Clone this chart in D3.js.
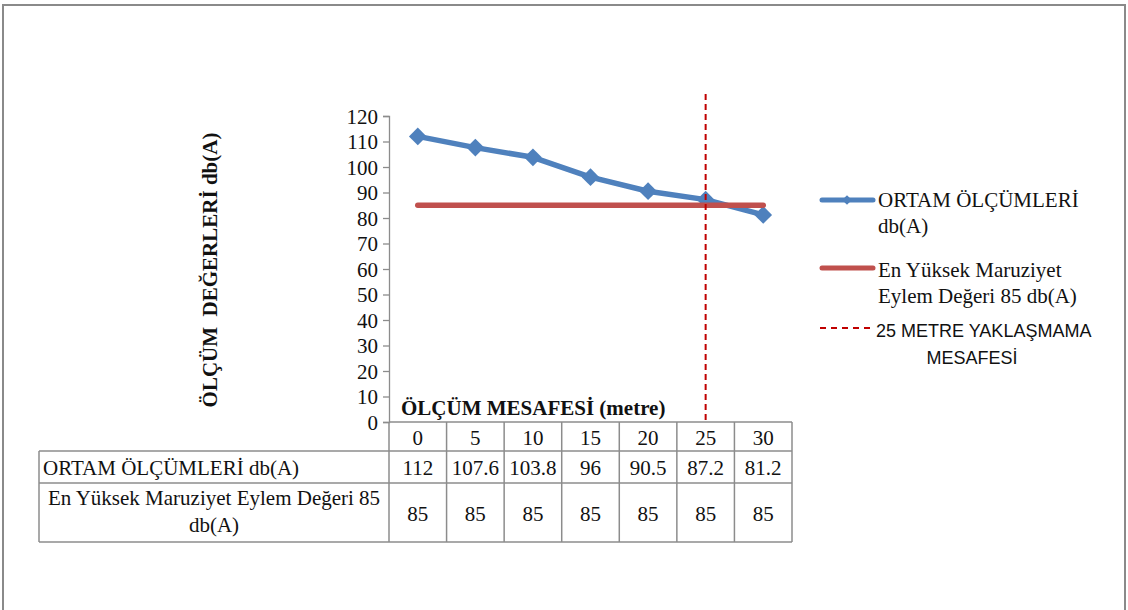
<!DOCTYPE html>
<html>
<head>
<meta charset="utf-8">
<script src="https://cdn.jsdelivr.net/npm/d3@7"></script>
<style>
  html, body { margin: 0; padding: 0; background: #fff; }
  svg { display: block; }
  .serif { font-family: "Liberation Serif", "Times New Roman", serif; }
  .sans { font-family: "Liberation Sans", Arial, sans-serif; }
</style>
</head>
<body>
<svg id="chart" width="1128" height="610"></svg>
<script>
// Measurement distances (metre)
const distances = ["0", "5", "10", "15", "20", "25", "30"];
// Measured ambient noise levels, db(A)
const ambient = [112, 107.6, 103.8, 96, 90.5, 87.2, 81.2];
// Upper exposure action value, db(A)
const limit = [85, 85, 85, 85, 85, 85, 85];
// Distance marked by the vertical guide line
const approachDistance = "25";
const yTicks = [0, 10, 20, 30, 40, 50, 60, 70, 80, 90, 100, 110, 120];

const seriesNames = ["ORTAM ÖLÇÜMLERİ db(A)", "En Yüksek Maruziyet Eylem Değeri 85 db(A)"];

const svg = d3.select("#chart");
const blue = "#4F81BD", red = "#C0504D", guideRed = "#C00000", grid = "#8C8C8C";
const fs = 21;

// outer frame
svg.append("rect").attr("x", 3).attr("y", 5).attr("width", 1122).attr("height", 620)
  .attr("fill", "none").attr("stroke", "#8a8a8a").attr("stroke-width", 2);

const x = d3.scaleBand().domain(distances).range([389, 792]).padding(0);
const y = d3.scaleLinear().domain([0, 120]).range([422, 116]);

// y axis
const yAxis = svg.append("g").attr("transform", "translate(389,0)")
  .call(d3.axisLeft(y).tickValues(yTicks).tickSize(6).tickPadding(5));
yAxis.select(".domain").attr("stroke", grid).attr("stroke-width", 1.3);
yAxis.selectAll(".tick line").attr("stroke", grid).attr("stroke-width", 1.3);
yAxis.selectAll(".tick text").attr("class", "serif").attr("font-size", fs)
  .attr("fill", "#111").attr("dy", "0.34em");
yAxis.attr("font-family", null);

// y axis title
svg.append("text").attr("class", "serif")
  .attr("transform", "translate(217,270) rotate(-90)")
  .attr("text-anchor", "middle").attr("font-size", fs).attr("font-weight", "bold")
  .attr("fill", "#111").attr("xml:space", "preserve")
  .text("ÖLÇÜM  DEĞERLERİ db(A)");

// x axis title (inside plot, above table)
svg.append("text").attr("class", "serif")
  .attr("x", 401).attr("y", 415).attr("font-size", fs).attr("font-weight", "bold")
  .attr("fill", "#111").text("ÖLÇÜM MESAFESİ (metre)");

// data table
const rowTop = [422, 451, 483, 542];
const tableLeft = 39, plotLeft = 389, plotRight = 792;
const tbl = svg.append("g").attr("stroke", grid).attr("stroke-width", 1.5).attr("fill", "none");
// horizontal rules
tbl.append("line").attr("x1", plotLeft).attr("x2", plotRight).attr("y1", rowTop[0]).attr("y2", rowTop[0]);
[1, 2, 3].forEach(i => {
  tbl.append("line").attr("x1", tableLeft).attr("x2", plotRight).attr("y1", rowTop[i]).attr("y2", rowTop[i]);
});
// vertical rules
tbl.append("line").attr("x1", tableLeft).attr("x2", tableLeft).attr("y1", rowTop[1]).attr("y2", rowTop[3]);
distances.forEach(d => {
  tbl.append("line").attr("x1", x(d)).attr("x2", x(d)).attr("y1", rowTop[0]).attr("y2", rowTop[3]);
});
tbl.append("line").attr("x1", plotRight).attr("x2", plotRight).attr("y1", rowTop[0]).attr("y2", rowTop[3]);

const cellText = (xx, yy, t, anchor) => svg.append("text").attr("class", "serif")
  .attr("x", xx).attr("y", yy).attr("font-size", fs).attr("fill", "#111")
  .attr("text-anchor", anchor || "middle").attr("dominant-baseline", "central").text(t);

distances.forEach((d, i) => {
  const cx = x(d) + x.bandwidth() / 2;
  cellText(cx, (rowTop[0] + rowTop[1]) / 2 + 1, d);
  cellText(cx, (rowTop[1] + rowTop[2]) / 2 + 1, ambient[i]);
  cellText(cx, (rowTop[2] + rowTop[3]) / 2 + 1, limit[i]);
});
cellText(43, (rowTop[1] + rowTop[2]) / 2 + 1, seriesNames[0], "start");
cellText(214, 498, "En Yüksek Maruziyet Eylem Değeri 85");
cellText(214, 525, "db(A)");

// series lines
const cx = d => x(d) + x.bandwidth() / 2;
const line = d3.line().x((v, i) => cx(distances[i])).y(v => y(v));

svg.append("path").datum(ambient).attr("d", line).attr("fill", "none")
  .attr("stroke", blue).attr("stroke-width", 5.5).attr("stroke-linejoin", "round").attr("stroke-linecap", "round");

const diamond = d3.symbol().type(d3.symbolDiamond2).size(200);
svg.selectAll(".mk").data(ambient).enter().append("path").attr("class", "mk")
  .attr("transform", (v, i) => `translate(${cx(distances[i])},${y(v)})`)
  .attr("d", diamond).attr("fill", blue);

svg.append("path").datum(limit).attr("d", line).attr("fill", "none")
  .attr("stroke", red).attr("stroke-width", 5.5).attr("stroke-linecap", "round");

// 25 m approach distance guide
svg.append("line").attr("x1", cx(approachDistance)).attr("x2", cx(approachDistance))
  .attr("y1", 94).attr("y2", 422)
  .attr("stroke", guideRed).attr("stroke-width", 2).attr("stroke-dasharray", "6,4");

// legend
const lg = svg.append("g");
lg.append("line").attr("x1", 822).attr("x2", 873).attr("y1", 200).attr("y2", 200)
  .attr("stroke", blue).attr("stroke-width", 5).attr("stroke-linecap", "round");
lg.append("path").attr("transform", "translate(847,200)")
  .attr("d", d3.symbol().type(d3.symbolDiamond2).size(60)).attr("fill", blue);
lg.append("line").attr("x1", 822).attr("x2", 873).attr("y1", 268).attr("y2", 268)
  .attr("stroke", red).attr("stroke-width", 5).attr("stroke-linecap", "round");
lg.append("line").attr("x1", 820).attr("x2", 874).attr("y1", 328).attr("y2", 328)
  .attr("stroke", guideRed).attr("stroke-width", 2).attr("stroke-dasharray", "6,5");

const legText = (xx, yy, t, cls, anchor, size) => lg.append("text").attr("class", cls)
  .attr("x", xx).attr("y", yy).attr("font-size", size).attr("fill", "#111")
  .attr("text-anchor", anchor || "start").attr("dominant-baseline", "central").text(t);
legText(878, 200, "ORTAM ÖLÇÜMLERİ", "serif", "start", fs);
legText(878, 226, "db(A)", "serif", "start", fs);
legText(878, 270, "En Yüksek Maruziyet", "serif", "start", fs);
legText(878, 296, "Eylem Değeri 85 db(A)", "serif", "start", fs);
legText(876, 331, "25 METRE YAKLAŞMAMA", "sans", "start", 18);
legText(972, 358, "MESAFESİ", "sans", "middle", 18);
</script>
</body>
</html>
